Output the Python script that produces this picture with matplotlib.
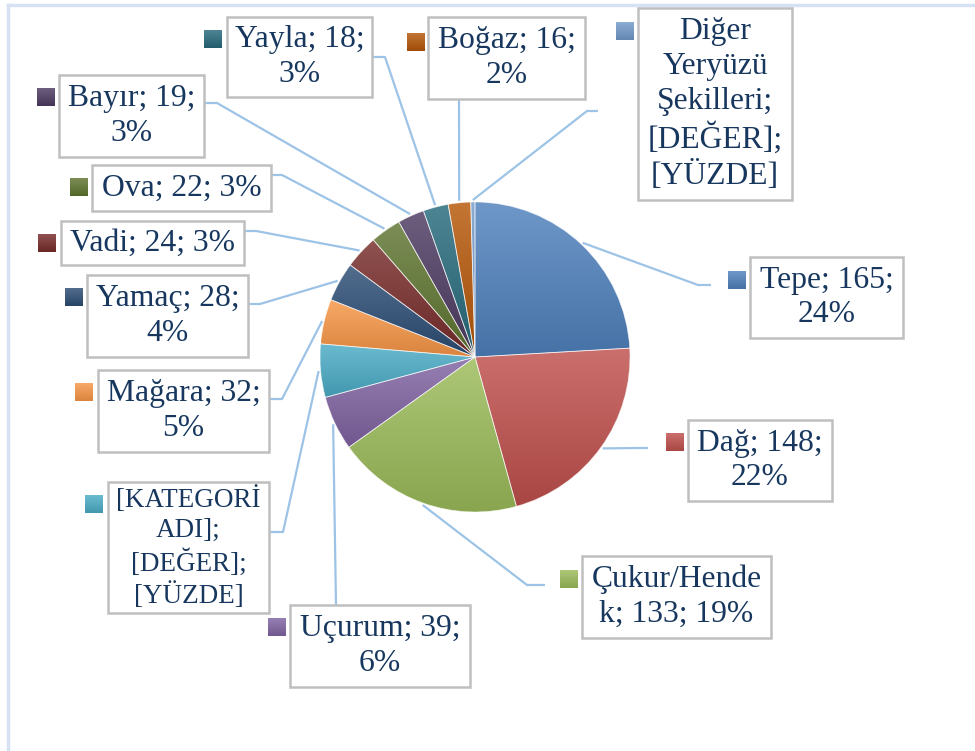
"""
Yeryüzü şekilleri dağılımı - pasta grafik
"""

import numpy as np
import matplotlib
matplotlib.use("Agg")
import matplotlib.pyplot as plt
from matplotlib.patches import Rectangle
from matplotlib.colors import to_rgb

plt.rcParams["font.family"] = ["Liberation Serif", "DejaVu Serif"]

# data
categories = ["Tepe", "Dağ", "Çukur/Hendek", "Uçurum", "[KATEGORİ ADI]", "Mağara",
              "Yamaç", "Vadi", "Ova", "Bayır", "Yayla", "Boğaz",
              "Diğer Yeryüzü Şekilleri"]
values = [165, 148, 133, 39, 38, 32, 28, 24, 22, 19, 18, 16, 3]
label_texts = [
    "Tepe; 165;\n24%",
    "Dağ; 148;\n22%",
    "Çukur/Hende\nk; 133; 19%",
    "Uçurum; 39;\n6%",
    "[KATEGORİ\nADI];\n[DEĞER];\n[YÜZDE]",
    "Mağara; 32;\n5%",
    "Yamaç; 28;\n4%",
    "Vadi; 24; 3%",
    "Ova; 22; 3%",
    "Bayır; 19;\n3%",
    "Yayla; 18;\n3%",
    "Boğaz; 16;\n2%",
    "Diğer\nYeryüzü\nŞekilleri;\n[DEĞER];\n[YÜZDE]",
]
colors = ["#4F81BD", "#C0504D", "#9BBB59", "#8064A2", "#4BACC6", "#F79646",
          "#2C4D75", "#772C2A", "#5F7530", "#4D3B62", "#276A7C", "#B65708",
          "#729ACA"]

# label layout in pixel coords (x0, y0, x1, y1) from the top-left
boxes = [
    (750, 257, 903, 338),
    (688, 420, 832, 501),
    (582, 556, 771, 638),
    (290, 605, 470, 687),
    (108, 482, 269, 613),
    (98, 370, 269, 452),
    (87, 275, 248, 357),
    (61, 221, 244, 265),
    (92, 165, 271, 211),
    (59, 75, 204, 157),
    (227, 17, 372, 97),
    (428, 17, 585, 99),
    (638, 8, 792, 200),
]
font_sizes = [22.8, 22.8, 22.8, 22.8, 19.5, 22.8, 22.8, 22.8, 22.8, 22.8, 22.8, 22.8, 22.8]
keys = [(728, 271), (666, 433), (560, 570), (268, 618), (85, 495), (75, 383),
        (65, 288), (38, 234), (70, 178), (37, 88), (204, 30), (407, 33),
        (616, 22)]
leader_starts = [
    [(711, 285), (698, 285)],
    [(648, 448), (638, 448)],
    [(545, 585), (527, 585)],
    [(336, 605)],
    [(270, 532), (283, 532)],
    [(269, 399), (282, 399)],
    [(248, 304), (260, 304)],
    [(244, 231), (256, 231)],
    [(271, 175), (282, 175)],
    [(204, 103), (217, 103)],
    [(372, 57), (385, 57)],
    [(459, 99)],
    [(598, 111), (587, 111)],
]

W, H = 975, 751
CX, CY, R = 475, 357, 155
text_color = "#17375E"
line_color = "#9DC3E6"


def Y(y):
    return H - y


def grad_img(c, n=64):
    c = np.array(to_rgb(c))
    top = c + (1 - c) * 0.18
    bot = c * 0.88
    t = np.linspace(0, 1, n)[:, None]
    g = bot + (top - bot) * t
    return g[:, None, :]


fig = plt.figure(figsize=(W / 100, H / 100), dpi=100)
ax = fig.add_axes([0, 0, 1, 1])

wedges, _ = ax.pie(values, colors=colors, startangle=90, counterclock=False,
                   center=(CX, Y(CY)), radius=R,
                   wedgeprops=dict(linewidth=0.6, edgecolor=(1, 1, 1, 0.6)))

for w, c in zip(wedges, colors):
    verts = w.get_path().vertices
    x0, y0 = verts.min(axis=0)
    x1, y1 = verts.max(axis=0)
    im = ax.imshow(grad_img(c), extent=(x0, x1, y0, y1), origin="lower",
                   interpolation="bilinear", aspect="auto", zorder=1)
    im.set_clip_path(w)
    w.set_facecolor("none")
    w.set_zorder(2)

# labels, keys and leader lines
for w, c, txt, fs, box, key, pts in zip(wedges, colors, label_texts, font_sizes,
                                        boxes, keys, leader_starts):
    mid = np.deg2rad((w.theta1 + w.theta2) / 2)
    end = (CX + (R + 2) * np.cos(mid), Y(CY) + (R + 2) * np.sin(mid))
    xs = [p[0] for p in pts] + [end[0]]
    ys = [Y(p[1]) for p in pts] + [end[1]]
    ax.plot(xs, ys, color=line_color, lw=1.6, zorder=0, solid_capstyle="butt")

    x0, y0, x1, y1 = box
    ax.add_patch(Rectangle((x0, Y(y1)), x1 - x0, y1 - y0, facecolor="white",
                           edgecolor="#BFBFBF", lw=1.8, zorder=3))
    ax.text((x0 + x1) / 2, Y((y0 + y1) / 2), txt, ha="center", va="center",
            multialignment="center", fontsize=fs, color=text_color,
            linespacing=1.27, zorder=4)

    kx, ky = key
    ax.imshow(grad_img(c), extent=(kx, kx + 18, Y(ky + 18), Y(ky)), origin="lower",
              interpolation="bilinear", aspect="auto", zorder=4)

# chart area border (cut off at right and bottom)
ax.plot([8, W + 5], [Y(5), Y(5)], color="#D6E2F3", lw=2.5, zorder=0)
ax.plot([8, 8], [Y(5), -5], color="#D6E2F3", lw=2.5, zorder=0)

ax.set_xlim(0, W)
ax.set_ylim(0, H)
ax.set_aspect("auto")
ax.axis("off")

fig.savefig("out.png", dpi=100, facecolor="white")
print("Chart saved")
